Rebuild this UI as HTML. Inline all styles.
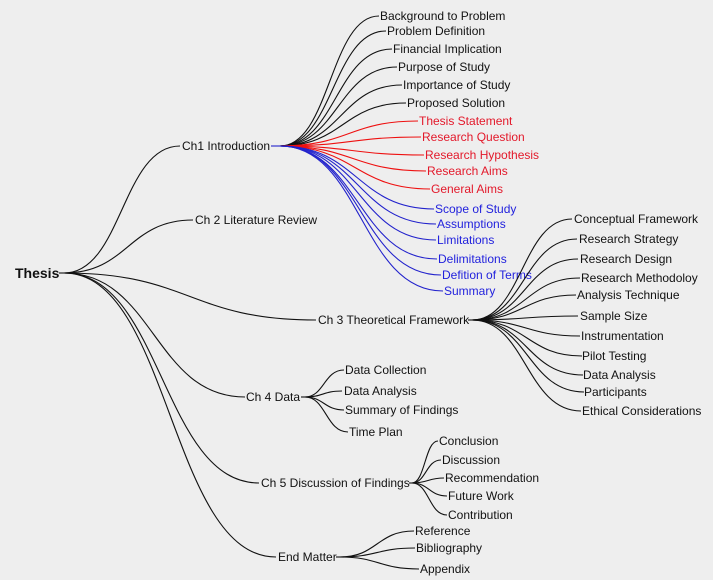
<!DOCTYPE html>
<html><head><meta charset="utf-8"><style>
html,body{margin:0;padding:0;background:#eeeeee;}
svg{display:block;}
text{font-family:"Liberation Sans",Arial,sans-serif;font-size:12px;fill:#111;}
.r{fill:#e3182a}.b{fill:#2222dd}
path{fill:none;stroke:#111;stroke-width:1.1}
.pr{stroke:#ee1010}.pb{stroke:#2222cc}
</style></head><body>
<svg width="713" height="580" viewBox="0 0 713 580">
<rect width="713" height="580" fill="#eeeeee"/>
<!-- root -->
<path d="M59 273 L70 273" stroke-width="2.5"/>
<path d="M64 273 C122 273 122 146 180 146"/>
<path d="M64 273 C128 273 128 220 193 220"/>
<path d="M64 273 C190 273 190 320 316 320"/>
<path d="M64 273 C154 273 154 397 245 397"/>
<path d="M64 273 C162 273 162 483 259 483"/>
<path d="M64 273 C170 273 170 557 276 557"/>
<text x="15" y="278" style="font-size:14px;font-weight:bold">Thesis</text>
<text x="182" y="150">Ch1 Introduction</text>
<text x="195" y="224">Ch 2 Literature Review</text>
<text x="318" y="324">Ch 3 Theoretical Framework</text>
<text x="246" y="401">Ch 4 Data</text>
<text x="261" y="487">Ch 5 Discussion of Findings</text>
<text x="278" y="561">End Matter</text>
<!-- ch1 -->
<path d="M271 146 L284 146" stroke-width="2.5" class="pb"/>
<path d="M280 146 C330 146 330 16 379 16"/>
<path d="M280 146 C333 146 333 31 386 31"/>
<path d="M280 146 C336 146 336 49 392 49"/>
<path d="M280 146 C338 146 338 67 397 67"/>
<path d="M280 146 C341 146 341 85 402 85"/>
<path d="M280 146 C343 146 343 103 406 103"/>
<path class="pr" d="M280 146 C349 146 349 121 418 121"/>
<path class="pr" d="M280 146 C350 146 350 137 421 137"/>
<path class="pr" d="M280 146 C352 146 352 155 424 155"/>
<path class="pr" d="M280 146 C353 146 353 171 426 171"/>
<path class="pr" d="M280 146 C355 146 355 189 430 189"/>
<path class="pb" d="M280 146 C357 146 357 209 434 209"/>
<path class="pb" d="M280 146 C358 146 358 224 436 224"/>
<path class="pb" d="M280 146 C358 146 358 240 436 240"/>
<path class="pb" d="M280 146 C358 146 358 259 437 259"/>
<path class="pb" d="M280 146 C360 146 360 275 441 275"/>
<path class="pb" d="M280 146 C361 146 361 291 443 291"/>
<text x="380" y="20">Background to Problem</text>
<text x="387" y="35">Problem Definition</text>
<text x="393" y="53">Financial Implication</text>
<text x="398" y="71">Purpose of Study</text>
<text x="403" y="89">Importance of Study</text>
<text x="407" y="107">Proposed Solution</text>
<text class="r" x="419" y="125">Thesis Statement</text>
<text class="r" x="422" y="141">Research Question</text>
<text class="r" x="425" y="159">Research Hypothesis</text>
<text class="r" x="427" y="175">Research Aims</text>
<text class="r" x="431" y="193">General Aims</text>
<text class="b" x="435" y="213">Scope of Study</text>
<text class="b" x="437" y="228">Assumptions</text>
<text class="b" x="437" y="244">Limitations</text>
<text class="b" x="438" y="263">Delimitations</text>
<text class="b" x="442" y="279">Defition of Terms</text>
<text class="b" x="444" y="295">Summary</text>
<!-- ch3 -->
<path d="M468 320 L478 320" stroke-width="2.5"/>
<path d="M472 320 C522 320 522 219 572 219"/>
<path d="M472 320 C524 320 524 239 577 239"/>
<path d="M472 320 C525 320 525 259 578 259"/>
<path d="M472 320 C526 320 526 278 580 278"/>
<path d="M472 320 C524 320 524 295 576 295"/>
<path d="M472 320 C525 320 525 316 578 316"/>
<path d="M472 320 C526 320 526 336 580 336"/>
<path d="M472 320 C527 320 527 356 582 356"/>
<path d="M472 320 C527 320 527 375 583 375"/>
<path d="M472 320 C528 320 528 392 584 392"/>
<path d="M472 320 C526 320 526 411 581 411"/>
<text x="574" y="223">Conceptual Framework</text>
<text x="579" y="243">Research Strategy</text>
<text x="580" y="263">Research Design</text>
<text x="581" y="282">Research Methodoloy</text>
<text x="577" y="299">Analysis Technique</text>
<text x="580" y="320">Sample Size</text>
<text x="581" y="340">Instrumentation</text>
<text x="582" y="360">Pilot Testing</text>
<text x="583" y="379">Data Analysis</text>
<text x="584" y="396">Participants</text>
<text x="582" y="415">Ethical Considerations</text>
<!-- ch4 -->
<path d="M301 397 L309 397" stroke-width="2.5"/>
<path d="M305 397 C324 397 324 370 344 370"/>
<path d="M305 397 C323 397 323 391 342 391"/>
<path d="M305 397 C324 397 324 410 344 410"/>
<path d="M305 397 C326 397 326 432 348 432"/>
<text x="345" y="374">Data Collection</text>
<text x="344" y="395">Data Analysis</text>
<text x="345" y="414">Summary of Findings</text>
<text x="349" y="436">Time Plan</text>
<!-- ch5 -->
<path d="M409 483 L416 483" stroke-width="2.5"/>
<path d="M412 483 C425 483 425 441 438 441"/>
<path d="M412 483 C426 483 426 460 441 460"/>
<path d="M412 483 C428 483 428 478 444 478"/>
<path d="M412 483 C429 483 429 496 447 496"/>
<path d="M412 483 C429 483 429 515 447 515"/>
<text x="439" y="445">Conclusion</text>
<text x="442" y="464">Discussion</text>
<text x="445" y="482">Recommendation</text>
<text x="448" y="500">Future Work</text>
<text x="448" y="519">Contribution</text>
<!-- end -->
<path d="M336 557 L344 557" stroke-width="2.5"/>
<path d="M340 557 C377 557 377 531 414 531"/>
<path d="M340 557 C377 557 377 548 415 548"/>
<path d="M340 557 C379 557 379 569 419 569"/>
<text x="415" y="535">Reference</text>
<text x="416" y="552">Bibliography</text>
<text x="420" y="573">Appendix</text>
</svg>
</body></html>
